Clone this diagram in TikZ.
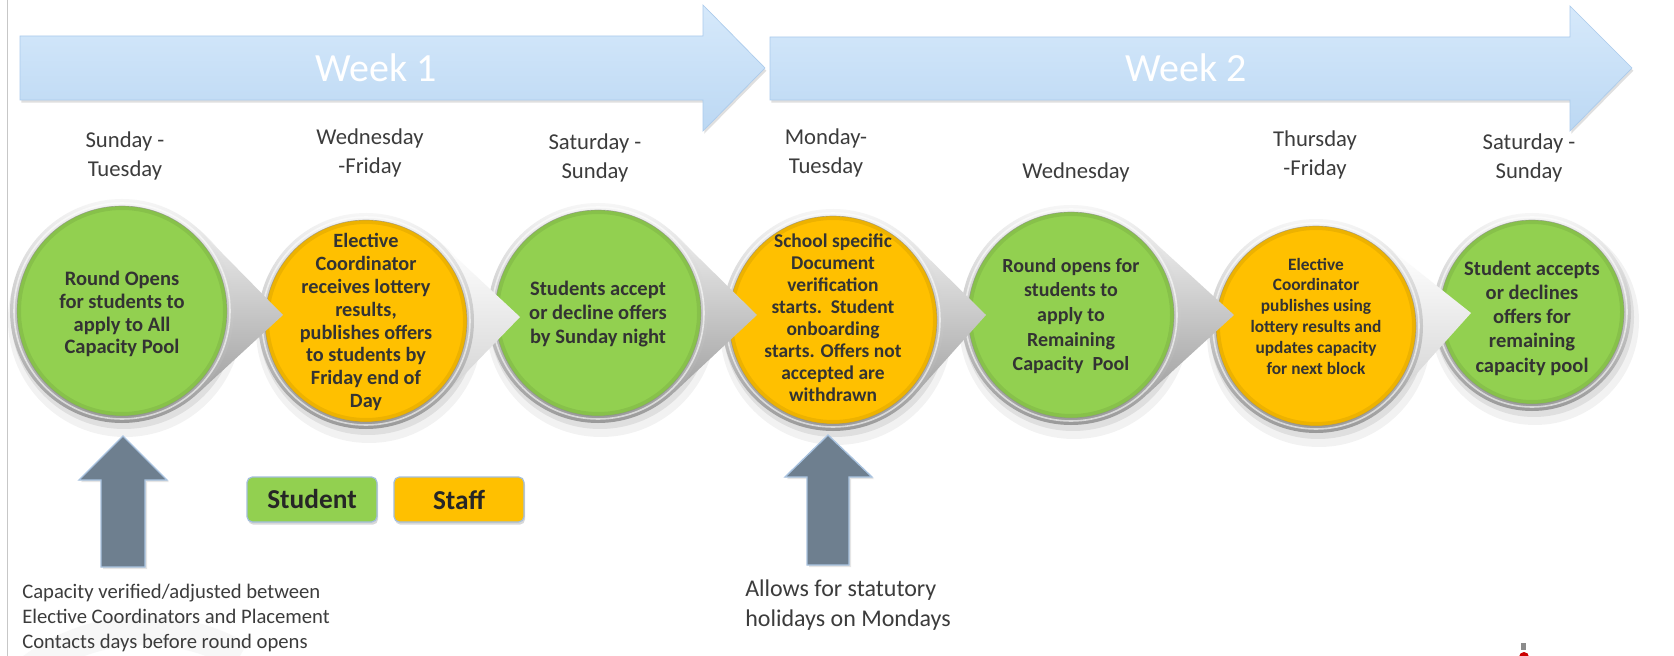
\documentclass[tikz,border=0pt]{standalone}
\usepackage{fontspec}
\setmainfont{Carlito}
\usetikzlibrary{calc,shadows}
\definecolor{stgreen}{HTML}{92D050}
\definecolor{storange}{HTML}{FFC000}
\definecolor{arrtop}{HTML}{D6E9FB}
\definecolor{arrbot}{HTML}{BCD8F3}
\definecolor{arredge}{HTML}{ABCBEC}
\definecolor{slate}{HTML}{6E7F8F}
\definecolor{slateedge}{HTML}{A9C3E0}
\definecolor{txtgray}{HTML}{3C3C3C}
\definecolor{circtxt}{HTML}{333333}
\definecolor{ringtop}{HTML}{F6F6F6}
\definecolor{ringbot}{HTML}{9A9A9A}
\definecolor{legedge}{HTML}{A3BEDC}
\definecolor{tailtop}{HTML}{ECECEC}
\definecolor{tailmid}{HTML}{B4B4B4}
\definecolor{tailbot}{HTML}{A2A2A2}
\definecolor{wtailbot}{HTML}{D2D2D2}

% #1 cx, #2 cy, #3 r, #4 tipx, #5 tipy, #6 tail style
\newcommand{\bubbletail}[6]{%
  \pgfmathsetmacro\bR{#3+7}%
  \shade[#6] ($(#1,#2)+(-46:\bR)$) -- (#4,#5) -- ($(#1,#2)+(46:\bR)$) -- (#1,#2) -- cycle;
}
% #1 cx, #2 cy, #3 r, #4 fill colour
\newcommand{\bubblering}[4]{%
  \pgfmathsetmacro\bR{#3+7}%
  \pgfmathsetmacro\bH{#3+3}%
  \shade[top color=ringtop, bottom color=ringbot] (#1,#2) circle[radius=\bR];
  \draw[white, opacity=0.6, line width=1.2pt] (#1,#2) circle[radius=\bH];
  \fill[#4] (#1,#2) circle[radius=#3];
  \draw[black, opacity=0.07, line width=3pt] (#1,#2) circle[radius=#3-2];
  \draw[black!45, opacity=0.6, line width=0.5pt] (#1,#2) circle[radius=#3];
}
\newcommand{\bubbleshadow}[3]{%
  \fill[black,opacity=0.05] (#1+3,#2+9) circle[radius=#3+12];
  \fill[black,opacity=0.08] (#1+2,#2+5) circle[radius=#3+8];
}

\begin{document}
\begin{tikzpicture}[x=0.75pt,y=-0.75pt,
  daylbl/.style={text=txtgray, align=center, font=\fontsize{17}{21.7}\selectfont, inner sep=0pt},
  ctext/.style={text=circtxt, align=center, inner sep=0pt},
  weektxt/.style={text=white, font=\fontsize{30}{36}\selectfont, inner sep=0pt},
  bigarrow/.style={top color=arrtop, bottom color=arrbot, draw=arredge, line width=0.5pt,
     drop shadow={shadow xshift=1pt, shadow yshift=-2pt, opacity=0.25}},
  uparrow/.style={fill=slate, draw=slateedge, line width=1pt,
     drop shadow={shadow xshift=1.5pt, shadow yshift=-1.5pt, opacity=0.2}},
  legbox/.style={rounded corners=4pt, draw=legedge, line width=0.9pt, minimum width=97.5pt,
     minimum height=33.75pt, font=\bfseries\fontsize{20.5}{24}\selectfont, text=black!85,
     drop shadow={shadow xshift=0.8pt, shadow yshift=-2pt, opacity=0.3}},
  note/.style={text=txtgray, align=left, inner sep=0pt},
  tailgray/.style={top color=tailtop, middle color=tailmid, bottom color=tailbot},
  tailwhite/.style={top color=white, bottom color=wtailbot}
]
\useasboundingbox (0,0) rectangle (1674,656);
\fill[white] (0,0) rectangle (1674,656);
% faint watermark
\draw[black!3, line width=22pt] (240,656) arc[start angle=-60, end angle=-200, radius=190];
% left frame line
\draw[black!22, line width=0.7pt] (7.5,0) -- (7.5,656);

% week arrows
\path[bigarrow] (20,36) -- (703,36) -- (703,5) -- (765,68) -- (703,131) -- (703,100) -- (20,100) -- cycle;
\path[bigarrow] (770,37) -- (1570,37) -- (1570,6) -- (1632,68) -- (1570,131) -- (1570,100) -- (770,100) -- cycle;
\node[weektxt] (wk1) at (376,68) {Week 1};
\node[weektxt] (wk2) at (1186,68) {Week 2};

% day labels
\node[daylbl] (d1) at (125,156) {Sunday -\\Tuesday};
\node[daylbl] (d2) at (370,153) {Wednesday\\-Friday};
\node[daylbl] (d3) at (595,158) {Saturday -\\Sunday};
\node[daylbl] (d4) at (826,153) {Monday-\\Tuesday};
\node[daylbl] (d5) at (1076,172) {Wednesday};
\node[daylbl] (d6) at (1315,155) {Thursday\\-Friday};
\node[daylbl] (d7) at (1529,158) {Saturday -\\Sunday};

% bubbles, drawn right to left
\bubbleshadow{1532}{312}{92}
\bubblering{1532}{312}{92}{stgreen}

\bubbleshadow{1316}{326}{100}
\bubbletail{1316}{326}{100}{1471}{313}{tailwhite}
\bubblering{1316}{326}{100}{storange}

\bubbleshadow{1071}{315}{103}
\bubbletail{1071}{315}{103}{1234}{315}{tailgray}
\bubblering{1071}{315}{103}{stgreen}

\bubbleshadow{833}{320}{104}
\bubbletail{833}{320}{104}{986}{315}{tailgray}
\bubblering{833}{320}{104}{storange}

\bubbleshadow{598}{313}{103}
\bubbletail{598}{313}{103}{757}{315}{tailgray}
\bubblering{598}{313}{103}{stgreen}

\bubbleshadow{366}{321}{101}
\bubbletail{366}{321}{101}{520}{317}{tailwhite}
\bubblering{366}{321}{101}{storange}

\bubbleshadow{122}{311}{105}
\bubbletail{122}{311}{105}{283}{315}{tailgray}
\bubblering{122}{311}{105}{stgreen}

% bubble texts
\node[ctext, font=\bfseries\fontsize{15.4}{17.2}\selectfont] (t1) at (122,314)
  {Round Opens\\for students to\\apply to All\\Capacity Pool};
\node[ctext, font=\bfseries\fontsize{15.2}{17.2}\selectfont] (t2) at (366,322)
  {Elective\\Coordinator\\receives lottery\\results,\\publishes offers\\to students by\\Friday end of\\Day};
\node[ctext, font=\bfseries\fontsize{15.4}{18}\selectfont] (t3) at (598,314)
  {Students accept\\or decline offers\\by Sunday night};
\node[ctext, font=\bfseries\fontsize{14.6}{16.5}\selectfont] (t4) at (833,318)
  {School specific\\Document\\verification\\starts.\ \ Student\\onboarding\\starts. Offers not\\accepted are\\withdrawn};
\node[ctext, font=\bfseries\fontsize{15}{18.5}\selectfont] (t5) at (1071,316)
  {Round opens for\\students to\\apply to\\Remaining\\Capacity\ \ Pool};
\node[ctext, font=\bfseries\fontsize{13}{15.6}\selectfont] (t6) at (1316,316)
  {Elective\\Coordinator\\publishes using\\lottery results and\\updates capacity\\for next block};
\node[ctext, font=\bfseries\fontsize{15.4}{18.2}\selectfont] (t7) at (1532,318)
  {Student accepts\\or declines\\offers for\\remaining\\capacity pool};

% legend
\node[legbox, fill=stgreen] (stud) at (312,499.5) {Student};
\node[legbox, fill=storange] (staff) at (459,499.5) {Staff};

% up arrows
\path[uparrow] (123,436) -- (167,480) -- (145,480) -- (145,567) -- (101,567) -- (101,480) -- (79,480) -- cycle;
\path[uparrow] (828,435) -- (872,477) -- (849,477) -- (849,565) -- (807,565) -- (807,477) -- (785,477) -- cycle;

% notes
\node[note, anchor=west, font=\fontsize{15.5}{18.4}\selectfont] (n1) at (22,618)
  {Capacity verified/adjusted between\\Elective Coordinators and Placement\\Contacts days before round opens};
\node[note, anchor=west, font=\fontsize{18}{22.5}\selectfont] (n2) at (745,605)
  {Allows for statutory\\holidays on Mondays};

% logo fragment at bottom edge
\fill[black!45] (1521,643) rectangle (1526,650);
\fill[red!80!black] (1524,657) circle[radius=5];
\end{tikzpicture}
\end{document}
